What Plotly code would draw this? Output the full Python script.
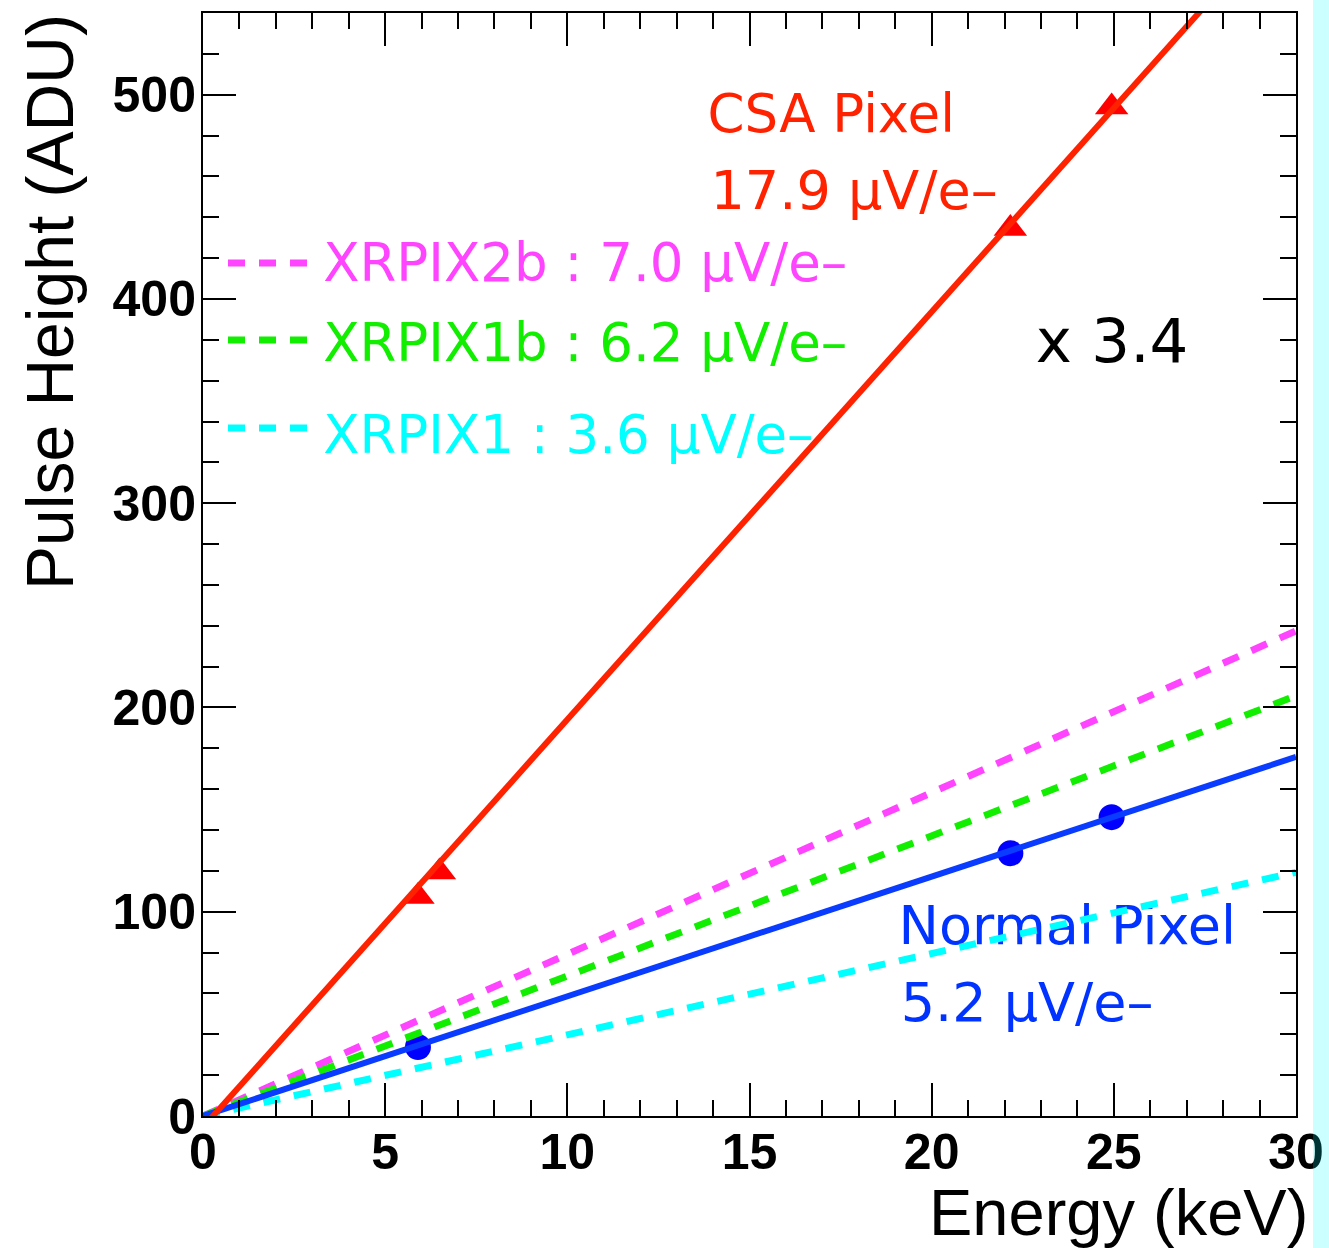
import plotly.graph_objects as go

# ---- data ----
energy_csa = [5.9, 6.49, 22.16, 24.94]
ph_csa = [107.5, 119.5, 434.5, 494.0]
energy_norm = [5.9, 22.16, 24.94]
ph_norm = [33.8, 128.6, 146.3]

fit_x = [0, 30]
fit_csa = [-5.5, 593.3]
fit_norm = [0, 175.8]
fit_xrpix2b = [0, 237.5]
fit_xrpix1b = [0, 205.7]
fit_xrpix1 = [0, 119.3]

label_text = ["CSA Pixel", "17.9 μV/e–", "XRPIX2b : 7.0 μV/e–", "XRPIX1b : 6.2 μV/e–",
              "XRPIX1 : 3.6 μV/e–", "x 3.4", "Normal Pixel", "5.2 μV/e–"]
label_x = [13.85, 13.93, 3.30, 3.30, 3.30, 22.86, 19.09, 19.15]
label_y = [488.0, 450.7, 415.4, 376.3, 331.3, 376.8, 91.0, 53.3]
label_color = ["#FF2200", "#FF2200", "#FF44FF", "#11EE00", "#00FFFF", "#000000", "#0033FF", "#0033FF"]
label_size = [53, 54, 53, 53, 53, 61, 54, 54]

x_ticks = [0, 5, 10, 15, 20, 25, 30]
y_ticks = [0, 100, 200, 300, 400, 500]

# ---- geometry helpers (pixels) ----
W, H = 1329, 1248
L, R, T, B = 203, 1296, 13, 1116

def px(xp):
    return (xp - L) / (R - L)

def py(yp):
    return (B - yp) / (B - T)

fig = go.Figure()

fig.add_trace(go.Scatter(x=label_x, y=label_y, text=label_text, mode="text",
                         textposition="middle right", cliponaxis=False,
                         textfont=dict(family="DejaVu Sans", size=label_size, color=label_color),
                         hoverinfo="skip"))

fig.add_trace(go.Scatter(x=energy_csa, y=ph_csa, mode="markers",
                         marker=dict(symbol="triangle-up", size=29, color="#FF0000",
                                     line=dict(width=0))))
fig.add_trace(go.Scatter(x=energy_norm, y=ph_norm, mode="markers",
                         marker=dict(symbol="circle", size=26, color="#0000FF",
                                     line=dict(width=0))))

dash = "17px,14px"
dw = 7
fig.add_trace(go.Scatter(x=fit_x, y=fit_xrpix2b, mode="lines",
                         line=dict(color="#FF44FF", width=dw, dash=dash)))
fig.add_trace(go.Scatter(x=fit_x, y=fit_xrpix1b, mode="lines",
                         line=dict(color="#11EE00", width=dw, dash=dash)))
fig.add_trace(go.Scatter(x=fit_x, y=fit_xrpix1, mode="lines",
                         line=dict(color="#00FFFF", width=dw, dash=dash)))
fig.add_trace(go.Scatter(x=fit_x, y=fit_norm, mode="lines",
                         line=dict(color="#0A3CFF", width=6)))
fig.add_trace(go.Scatter(x=fit_x, y=fit_csa, mode="lines",
                         line=dict(color="#FF2200", width=6)))

# legend keys (dashed samples)
shapes = []
for yp, col in [(263, "#FF44FF"), (340, "#11EE00"), (428, "#00FFFF")]:
    shapes.append(dict(type="line", xref="paper", yref="paper",
                       x0=px(228), x1=px(308), y0=py(yp), y1=py(yp),
                       line=dict(color=col, width=dw, dash=dash)))
# cyan strip at right edge
shapes.append(dict(type="rect", xref="paper", yref="paper", layer="above",
                   x0=px(1313), x1=px(1335), y0=py(1260), y1=py(-10),
                   fillcolor="rgba(0,255,255,0.2)", line=dict(width=0)))

axis_common = dict(showline=True, linewidth=2, linecolor="black", mirror="allticks",
                   ticks="inside", ticklen=33, tickwidth=2, tickcolor="black",
                   showgrid=False, zeroline=False, automargin=False,
                   tickfont=dict(family="Liberation Sans", size=50, color="black", weight="bold"))

fig.update_layout(
    width=W, height=H,
    margin=dict(l=L, r=W - R, t=T, b=H - B),
    paper_bgcolor="white", plot_bgcolor="white",
    showlegend=False,
    shapes=shapes,
    xaxis=dict(range=[0, 30], tickvals=x_ticks, ticklabelstandoff=-9,
               minor=dict(dtick=1, ticks="inside", ticklen=16, tickwidth=2, tickcolor="black"),
               **axis_common),
    yaxis=dict(range=[0, 540], tickvals=y_ticks, ticklabelstandoff=-5,
               minor=dict(dtick=20, ticks="inside", ticklen=16, tickwidth=2, tickcolor="black"),
               **axis_common),
    annotations=[
        dict(text="Pulse Height (ADU)", xref="paper", yref="paper",
             x=px(50), y=py(12), xanchor="center", yanchor="top", textangle=-90,
             showarrow=False, font=dict(family="Liberation Sans", size=66, color="black")),
        dict(text="Energy (keV)", xref="paper", yref="paper",
             x=px(1310), y=py(1212), xanchor="right", yanchor="middle",
             showarrow=False, font=dict(family="Liberation Sans", size=65, color="black")),
    ],
)

fig.write_html("out.html")
